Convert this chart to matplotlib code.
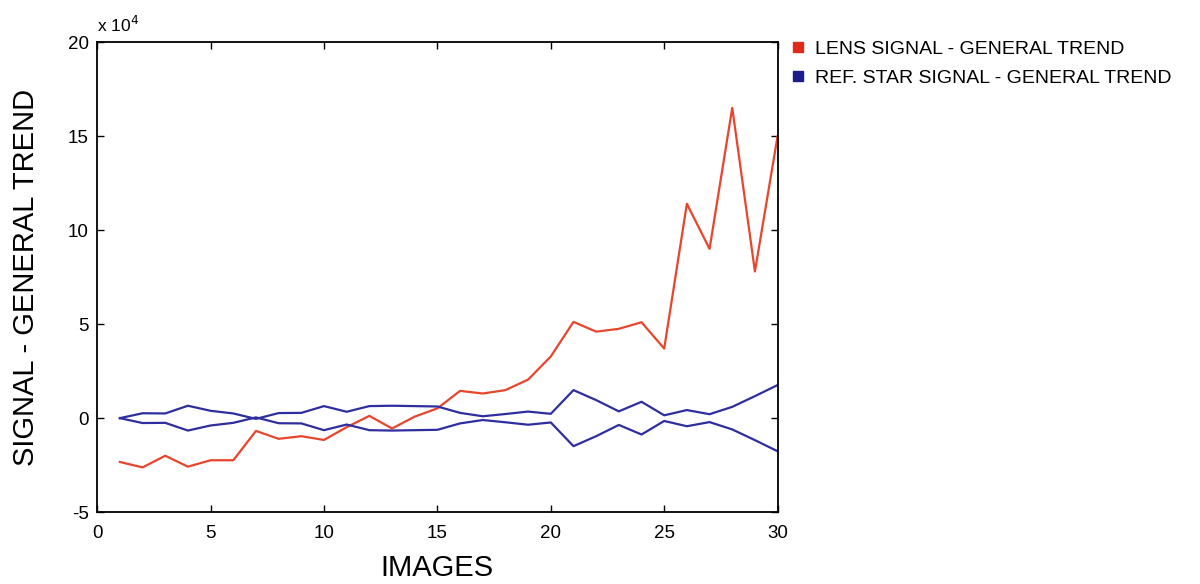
import matplotlib
matplotlib.use("Agg")
import matplotlib.pyplot as plt
from matplotlib.lines import Line2D
from matplotlib.ticker import FuncFormatter, MultipleLocator

images = list(range(1, 31))

lens_trend = [-2.33, -2.62, -2.0, -2.58, -2.24, -2.24, -0.68, -1.1, -0.96, -1.16,
              -0.48, 0.12, -0.55, 0.08, 0.52, 1.45, 1.31, 1.49, 2.05, 3.28,
              5.12, 4.6, 4.75, 5.1, 3.7, 11.4, 9.0, 16.5, 7.8, 15.0]

ref_trend = [0.0, 0.26, 0.25, 0.66, 0.39, 0.25, -0.04, 0.27, 0.28, 0.64,
             0.34, 0.64, 0.66, 0.64, 0.62, 0.28, 0.1, 0.22, 0.35, 0.23,
             1.49, 0.96, 0.36, 0.87, 0.15, 0.43, 0.21, 0.6, 1.17, 1.76]

scale = 1e4
lens = [v * scale for v in lens_trend]
ref_pos = [v * scale for v in ref_trend]
ref_neg = [-v * scale for v in ref_trend]

red = "#e8452c"
blue = "#2e2e9e"

plt.rcParams["font.family"] = ["Liberation Sans", "DejaVu Sans"]

fig = plt.figure(figsize=(12, 5.84), dpi=100)
ax = fig.add_axes([0.081, 0.123, 0.567, 0.805])

ax.plot(images, lens, color=red, lw=1.6)
ax.plot(images, ref_pos, color=blue, lw=1.6)
ax.plot(images, ref_neg, color=blue, lw=1.6)

ax.set_xlim(0, 30)
ax.set_ylim(-5 * scale, 20 * scale)
ax.xaxis.set_major_locator(MultipleLocator(5))
ax.yaxis.set_major_locator(MultipleLocator(5 * scale))
ax.yaxis.set_major_formatter(FuncFormatter(lambda v, p: f"{v / scale:g}"))
ax.tick_params(direction="in", top=True, right=True, length=5, width=1,
               labelsize=13.5)
ax.tick_params(axis="x", pad=9)
ax.tick_params(axis="y", pad=6)
for s in ax.spines.values():
    s.set_linewidth(1.3)

ax.set_xlabel("IMAGES", fontsize=21, labelpad=9)
ax.set_ylabel("SIGNAL - GENERAL TREND", fontsize=21, labelpad=20)
ax.text(0.0, 1.015, "x 10$^{4}$", transform=ax.transAxes, fontsize=12.5,
        ha="left", va="bottom")

handles = [
    Line2D([], [], ls="none", marker="s", markersize=6.5, color="#e02a1c"),
    Line2D([], [], ls="none", marker="s", markersize=6.5, color="#1c1c8c"),
]
fig.legend(handles, ["LENS SIGNAL - GENERAL TREND",
                     "REF. STAR SIGNAL - GENERAL TREND"],
           loc="upper left", bbox_to_anchor=(0.652, 0.945), frameon=False,
           fontsize=14, handlelength=0.8, handletextpad=0.5,
           labelspacing=0.6, borderaxespad=0)

fig.savefig("out.png", dpi=100)
